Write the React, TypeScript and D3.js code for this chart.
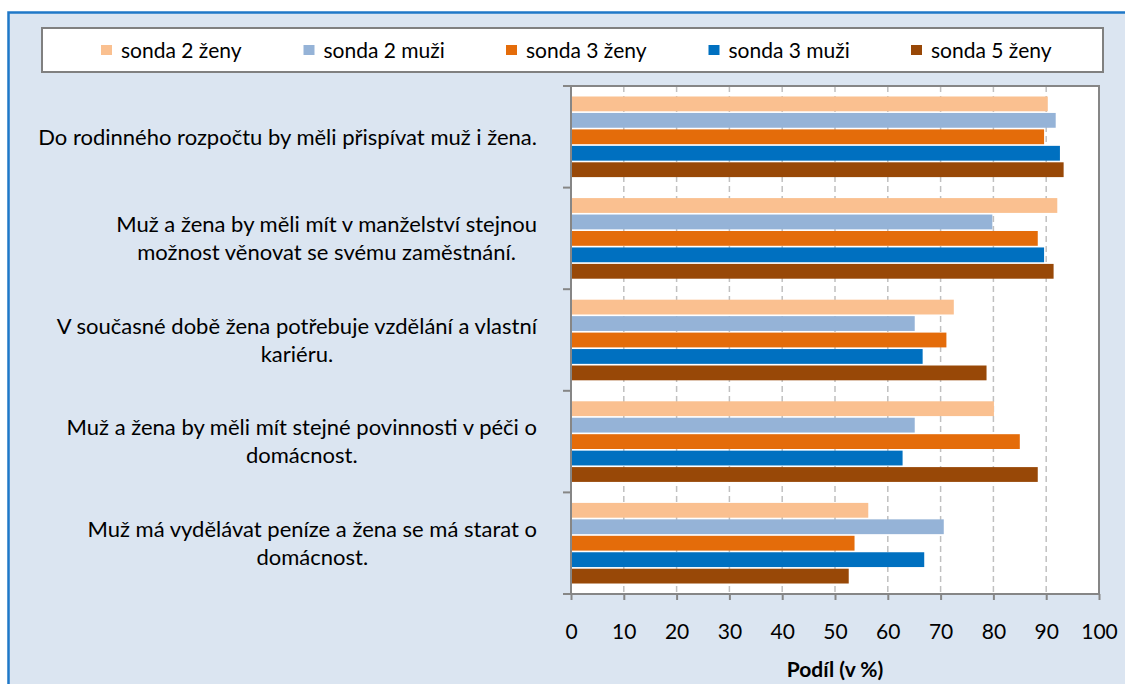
import React, { useEffect, useRef } from 'react';
import * as d3 from 'd3';

const categories = [
  'Do rodinného rozpočtu by měli přispívat muž i žena.',
  'Muž a žena by měli mít v manželství stejnou\nmožnost věnovat se svému zaměstnání.',
  'V současné době žena potřebuje vzdělání a vlastní\nkariéru.',
  'Muž a žena by měli mít stejné povinnosti v péči o\ndomácnost.',
  'Muž má vydělávat peníze a žena se má starat o\ndomácnost.',
];

const seriesNames = ['sonda 2 ženy', 'sonda 2 muži', 'sonda 3 ženy', 'sonda 3 muži', 'sonda 5 ženy'];
const sonda2Zeny = [90.3, 92.1, 72.5, 80.1, 56.3];
const sonda2Muzi = [91.8, 79.8, 65.1, 65.1, 70.6];
const sonda3Zeny = [89.6, 88.4, 71.1, 85.0, 53.7];
const sonda3Muzi = [92.6, 89.6, 66.6, 62.8, 66.9];
const sonda5Zeny = [93.3, 91.4, 78.7, 88.4, 52.6];
const seriesColors = ['#fac090', '#95b3d7', '#e46c0a', '#0070c0', '#984807'];
const xTicks = [0, 10, 20, 30, 40, 50, 60, 70, 80, 90, 100];
const axisTitle = 'Podíl (v %)';

const FONT = 'Lato, "Open Sans", "DejaVu Sans", sans-serif';

export default function App() {
  const ref = useRef<SVGSVGElement | null>(null);

  useEffect(() => {
    const svg = d3.select(ref.current);
    svg.selectAll('*').remove();
    const series = [sonda2Zeny, sonda2Muzi, sonda3Zeny, sonda3Muzi, sonda5Zeny];

    // outer frame
    svg.append('rect')
      .attr('x', 8.5).attr('y', 12.5).attr('width', 1300).attr('height', 900)
      .attr('fill', '#dbe5f1').attr('stroke', '#1f78c8').attr('stroke-width', 2.5);

    // legend
    const lg = svg.append('g');
    lg.append('rect').attr('x', 42).attr('y', 28).attr('width', 1061).attr('height', 44)
      .attr('fill', '#ffffff').attr('stroke', '#808080').attr('stroke-width', 2);
    const lx = d3.scaleLinear().domain([0, 4]).range([101, 911]);
    seriesNames.forEach((name, i) => {
      lg.append('rect').attr('x', lx(i)).attr('y', 45).attr('width', 11).attr('height', 10)
        .attr('fill', seriesColors[i]);
      lg.append('text').attr('x', lx(i) + 20).attr('y', 58)
        .attr('font-family', FONT).attr('font-size', 21).attr('fill', '#000')
        .text(name);
    });

    // scales
    const x = d3.scaleLinear().domain([0, 100]).range([571, 1099]);
    const y0 = d3.scaleBand<number>().domain(categories.map((_, i) => i)).range([86, 594])
      .paddingInner(0.2).paddingOuter(0.1);
    const y1 = d3.scaleBand<number>().domain(seriesNames.map((_, i) => i)).range([0, y0.bandwidth()])
      .paddingInner(0.1).paddingOuter(0.02);

    // plot area
    svg.append('rect').attr('x', x(0)).attr('y', 86).attr('width', x(100) - x(0)).attr('height', 508)
      .attr('fill', '#ffffff');

    // gridlines
    svg.append('g').selectAll('line').data(xTicks.filter(t => t > 0 && t < 100)).join('line')
      .attr('x1', d => x(d)).attr('x2', d => x(d)).attr('y1', 86).attr('y2', 594)
      .attr('stroke', '#c0c0c0').attr('stroke-width', 1.5).attr('stroke-dasharray', '6,4');

    // bars
    const bg = svg.append('g');
    categories.forEach((_, ci) => {
      series.forEach((vals, si) => {
        bg.append('rect')
          .attr('x', x(0)).attr('y', (y0(ci) as number) + (y1(si) as number))
          .attr('width', x(vals[ci]) - x(0)).attr('height', y1.bandwidth())
          .attr('fill', seriesColors[si]);
      });
    });

    // plot border top/right
    svg.append('path')
      .attr('d', `M${x(0)},86H${x(100)}V594`)
      .attr('fill', 'none').attr('stroke', '#868686').attr('stroke-width', 2);

    // left axis
    const yTicks = categories.map((_, i) => (y0(i) as number) - y0.step() * y0.paddingInner() / 2);
    yTicks.push(594);
    svg.append('line').attr('x1', x(0)).attr('x2', x(0)).attr('y1', 86).attr('y2', 594)
      .attr('stroke', '#868686').attr('stroke-width', 2);
    svg.append('g').selectAll('line').data(yTicks).join('line')
      .attr('x1', x(0) - 8).attr('x2', x(0)).attr('y1', d => d).attr('y2', d => d)
      .attr('stroke', '#868686').attr('stroke-width', 2);

    // bottom axis
    const ax = svg.append('g').attr('transform', 'translate(0,594)')
      .call(d3.axisBottom(x).tickValues(xTicks).tickSize(6).tickFormat(d3.format('d')));
    ax.select('.domain').remove();
    ax.append('line').attr('x1', x(0) - 8).attr('x2', x(100)).attr('y1', 0).attr('y2', 0)
      .attr('stroke', '#868686').attr('stroke-width', 2);
    ax.selectAll('.tick line').attr('stroke', '#868686').attr('stroke-width', 2);
    ax.selectAll('.tick text')
      .attr('y', 45).attr('dy', null)
      .attr('font-family', FONT).attr('font-size', 21).attr('fill', '#000');

    svg.append('text').attr('x', (x(0) + x(100)) / 2).attr('y', 677)
      .attr('text-anchor', 'middle').attr('font-family', FONT).attr('font-size', 21)
      .attr('font-weight', 'bold').attr('fill', '#000').text(axisTitle);

    // category labels
    const lblG = svg.append('g');
    const rightEdge = 537;
    const lineH = 28;
    categories.forEach((c, ci) => {
      const lines = c.split('\n');
      const cy = (y0(ci) as number) + y0.bandwidth() / 2;
      const g = lblG.append('g');
      const texts = lines.map((ln, li) =>
        g.append('text')
          .attr('y', cy + (li - (lines.length - 1) / 2) * lineH)
          .attr('dy', '0.35em')
          .attr('text-anchor', 'middle')
          .attr('font-family', FONT).attr('font-size', 22).attr('fill', '#000')
          .text(ln)
      );
      const maxW = d3.max(texts, t => (t.node() as SVGTextElement).getComputedTextLength()) || 0;
      texts.forEach(t => t.attr('x', rightEdge - maxW / 2));
    });
  }, []);

  return (
    <svg ref={ref} width={1125} height={684}
      style={{ position: 'absolute', left: 0, top: 0, display: 'block' }} />
  );
}
